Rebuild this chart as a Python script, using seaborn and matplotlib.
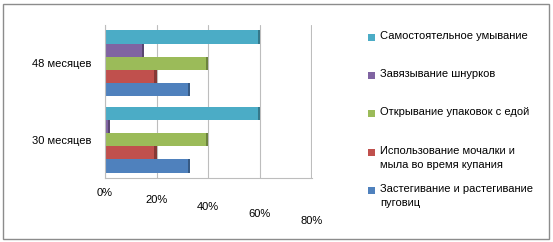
import numpy as np
import pandas as pd
import matplotlib
matplotlib.use("Agg")
import matplotlib.pyplot as plt
import matplotlib.patches as mpatches
import seaborn as sns

sns.set_theme(style="white")
plt.rcParams['font.family'] = ['Liberation Sans', 'DejaVu Sans']
plt.rcParams['text.color'] = 'black'
plt.rcParams['ytick.color'] = 'black'

ages = ["48 месяцев", "30 месяцев"]
skills = ["Самостоятельное умывание",
          "Завязывание шнурков",
          "Открывание упаковок с едой",
          "Использование мочалки и\nмыла во время купания",
          "Застегивание и растегивание\nпуговиц"]
val_48 = [0.60, 0.15, 0.40, 0.20, 0.33]
val_30 = [0.60, 0.02, 0.40, 0.20, 0.33]
ticks = [0, 0.2, 0.4, 0.6, 0.8]
tick_labels = ["0%", "20%", "40%", "60%", "80%"]
colors = ["#4BACC6", "#8064A2", "#9BBB59", "#C0504D", "#4F81BD"]

df = pd.DataFrame({
    "age": np.repeat(ages, len(skills)),
    "skill": skills * 2,
    "value": val_48 + val_30,
})

fig = plt.figure(figsize=(5.53, 2.42), dpi=100)
ax = fig.add_axes([105 / 553, 64 / 242, 207 / 553, 153 / 242])

sns.barplot(data=df, y="age", x="value", hue="skill", order=ages,
            hue_order=skills, palette=colors, orient="h", width=0.86,
            dodge=True, legend=False, ax=ax, saturation=1,
            edgecolor="none")

# darker end caps to hint at the 3D look
for p in ax.patches:
    c = p.get_facecolor()
    dark = tuple(v * 0.7 for v in c[:3])
    ax.add_patch(mpatches.Rectangle((p.get_x() + p.get_width() - 0.008, p.get_y()),
                                    0.008, p.get_height(), color=dark, lw=0))

ax.set_xlim(0, 0.803)
ax.set_xticks(ticks)
ax.set_xticklabels([])
ax.tick_params(axis="x", length=0)
ax.tick_params(axis="y", length=0, labelsize=8, pad=10, labelcolor="black")
ax.xaxis.grid(True, color="#bdbdbd", lw=0.8)
ax.set_axisbelow(True)
ax.set_xlabel("")
ax.set_ylabel("")
for s in ["top", "right"]:
    ax.spines[s].set_visible(False)
for s in ["left", "bottom"]:
    ax.spines[s].set_color("#bdbdbd")
    ax.spines[s].set_linewidth(0.8)

for i, (t, lab) in enumerate(zip(ticks, tick_labels)):
    ax.text(t, -0.10 - i * 0.046, lab, transform=ax.get_xaxis_transform(),
            ha="center", va="center", fontsize=8, color="black")

# legend
leg_y = [37, 75, 113, 152, 190]
for y, lab, c in zip(leg_y, skills, colors):
    fig.patches.append(mpatches.Rectangle((368 / 553, 1 - (y + 3.5) / 242), 7 / 553, 7 / 242,
                                          transform=fig.transFigure, color=c, lw=0))
    fig.text(380 / 553, 1 - (y - 6) / 242, lab, fontsize=8, va="top", ha="left",
             linespacing=1.5, color="black")

fig.patches.append(mpatches.Rectangle((3 / 553, 3 / 242), 546 / 553, 235 / 242,
                                      transform=fig.transFigure, fill=False,
                                      edgecolor="#8c8c8c", lw=1))

fig.savefig("out.png", dpi=100)
